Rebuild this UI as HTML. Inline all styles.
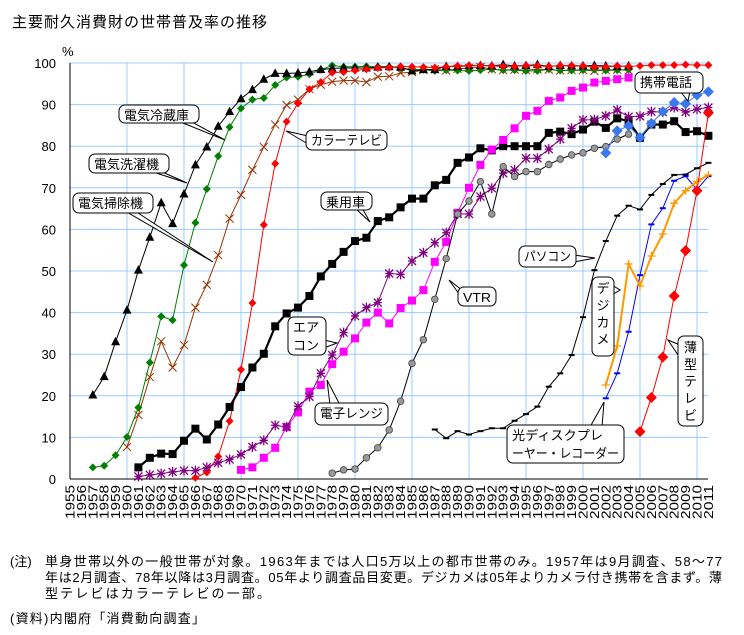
<!DOCTYPE html>
<html><head><meta charset="utf-8"><style>
body{margin:0;background:#fff;width:744px;height:635px;overflow:hidden;font-family:"Liberation Sans","Noto Sans CJK JP",sans-serif}
svg{position:absolute;left:0;top:0}
text{font-family:"Liberation Sans","Noto Sans CJK JP",sans-serif}
</style></head><body>
<svg id="s" width="744" height="635" viewBox="0 0 744 635" xmlns="http://www.w3.org/2000/svg">
<text x="12" y="27" font-size="15" letter-spacing="1">主要耐久消費財の世帯普及率の推移</text>
<text x="62" y="56" font-size="13">%</text>
<g id="grid"></g>
<g id="ser"></g>
<g id="call" font-size="12.5" fill="#000">
</g>
<text x="10" y="566" font-size="13">(注)</text>
<text x="45" y="566" font-size="13" textLength="677" lengthAdjust="spacing">単身世帯以外の一般世帯が対象。1963年までは人口5万以上の都市世帯のみ。1957年は9月調査、58～77</text>
<text x="45" y="582" font-size="13" textLength="677" lengthAdjust="spacing">年は2月調査、78年以降は3月調査。05年より調査品目変更。デジカメは05年よりカメラ付き携帯を含まず。薄</text>
<text x="45" y="598" font-size="13" textLength="225" lengthAdjust="spacing">型テレビはカラーテレビの一部。</text>
<text x="10" y="623" font-size="13" textLength="195" lengthAdjust="spacing">(資料)内閣府「消費動向調査」</text>
</svg>
<script>
(function(){
const NS="http://www.w3.org/2000/svg";
const X=y=>70+11.4*(y-1955), Y=p=>479-4.16*p;
function el(t,a,par,txt){const e=document.createElementNS(NS,t);for(const k in a)e.setAttribute(k,a[k]);if(txt!==undefined)e.textContent=txt;(par||document.getElementById('ser')).appendChild(e);return e;}
const g=document.getElementById('grid');
for(let i=0;i<=10;i++){const y=Y(i*10);if(i>0)el('line',{x1:70,x2:708,y1:y,y2:y,stroke:'#99ccff','stroke-width':1},g);
el('text',{x:56,y:y+5,'font-size':13,'text-anchor':'end'},g,String(i*10));}
for(let yr=1960;yr<=2010;yr+=5){el('line',{x1:X(yr),x2:X(yr),y1:63,y2:479,stroke:'#99ccff'},g);}
el('line',{x1:70,x2:70,y1:63,y2:479,stroke:'#000'},g);
el('line',{x1:70,x2:708,y1:479,y2:479,stroke:'#000'},g);
for(let yr=1955;yr<=2011;yr++){const x=X(yr)+4.5;el('text',{x:0,y:0,'font-size':12.5,textLength:34,lengthAdjust:'spacingAndGlyphs',transform:'translate('+x+',519) rotate(-90)'},g,String(yr));}
function S(start,vals,color,mk,w){const pts=vals.map((v,i)=>v==null?null:[X(start+i),Y(v)]).filter(p=>p);
el('polyline',{points:pts.map(p=>p.join(',')).join(' '),fill:'none',stroke:color,'stroke-width':w||1});
pts.forEach(p=>marker(p[0],p[1],mk,color));}
function marker(x,y,m,c){
if(m=='tri')el('polygon',{points:`${x},${y-5} ${x-4.5},${y+3.5} ${x+4.5},${y+3.5}`,fill:'#000'});
else if(m=='dia')el('polygon',{points:`${x},${y-4} ${x+4},${y} ${x},${y+4} ${x-4},${y}`,fill:c});
else if(m=='bdia')el('polygon',{points:`${x},${y-5.5} ${x+5.5},${y} ${x},${y+5.5} ${x-5.5},${y}`,fill:c});
else if(m=='x'){el('path',{d:`M${x-4},${y-4}L${x+4},${y+4}M${x+4},${y-4}L${x-4},${y+4}`,stroke:c});}
else if(m=='sq')el('rect',{x:x-4,y:y-4,width:8,height:8,fill:c});
else if(m=='ast')el('path',{d:`M${x-4},${y-4}L${x+4},${y+4}M${x+4},${y-4}L${x-4},${y+4}M${x},${y-5}L${x},${y+5}M${x-4},${y}L${x+4},${y}`,stroke:c,'stroke-width':1.3});
else if(m=='circ')el('circle',{cx:x,cy:y,r:3.3,fill:'#999',stroke:'#444','stroke-width':0.8});
else if(m=='dash')el('line',{x1:x-3,x2:x+3,y1:y,y2:y,stroke:c,'stroke-width':2});
else if(m=='plus')el('path',{d:`M${x-4},${y}L${x+4},${y}M${x},${y-4}L${x},${y+4}`,stroke:c,'stroke-width':1.3});
}
S(1960,[7.7,15.4,24.5,33.1,26.8,32.2,41.2,46.7,53.8,62.6,68.3,74.3,79.8,85.2,89.9,91.2,93.7,94.8,95.5,95.8,95.8,95.4,96.7,96.8,97.6,97.8,98.3,98.5,98.2,98.6,98.8,99,98.5,98.3,98.4,98.3,98.5,98.4,98.2,98.3,98.3,98.1,98.3,98.4,98.2],'#993300','x');
S(1957,[2.8,3.2,5.7,10.1,17.2,28.0,39.1,38.2,51.4,61.6,69.7,77.6,84.6,89.1,91.2,91.6,94.7,96.5,96.7,97.3,98.4,99.4,99.1,99.1,99.2,99.1,99.1,98.8,98.4,98.4,98.1,98.3,98.2,98.1,98.3,98.5,98.3,98.3,98.1,98.1,98.5,98.2,98.2,98.3,98.4,98.2,98.3,98.4],'#008000','dia');
S(1957,[20.2,24.6,33,40.6,50.2,58.1,66.4,61.4,68.5,75.5,79.8,84.8,88.3,91.4,93.6,96.1,97.5,97.5,97.6,97.9,98.4,98.7,98.8,98.8,98.8,99,99.1,99,98.1,98.4,98.4,99.2,99.2,99.3,99.4,99.3,99.6,99.3,99.4,99.6,99.2,99.4,99.3,99.3,99.4,99.3,99.2,99.3],'#000','tri');
S(1966,[0.3,1.6,5.4,13.9,26.3,42.3,61.1,75.8,85.9,90.3,93.7,95.4,97.7,97.8,98.2,98.5,98.8,98.9,99.2,99.1,99,98.9,99.1,99.3,99.4,99.4,99.3,99.2,99.2,99.4,99.3,99.2,99.4,99.4,99.3,99,99.1,99.3,99.2,99.3,99.5,99.5,99.5,99.6,99.5,99.5],'#ff0000','dia');
S(1961,[2.8,5.1,6.1,6.0,9.2,12.1,9.5,13.1,17.3,22.1,26.8,30.1,36.7,39.8,41.2,44.0,48.7,51.7,54.6,57.2,58.0,62.0,62.9,65.3,67.4,67.4,70.6,71.9,76.0,77.3,79.5,79.0,80,80,80,80,83.2,83.5,82.9,84,85.9,84.4,86.7,86,82,85.2,85.2,86,83.4,83.6,82.5],'#000','sq',2.2);
S(1970,[2.2,2.8,5.1,7.5,12.5,16,21,22.6,27.6,30.6,33.8,37.6,40,37.4,41.1,42.9,45.4,52.2,57,64,70,75.5,79.2,81.5,84.3,87.3,88.5,90.9,91.7,93.3,94.1,95.3,95.7,96.1,96.5],'#ff00ff','sq');
S(1961,[0.6,1,1.3,1.7,2,2,2.8,3.9,4.7,5.9,7.7,9.3,12.9,12.5,17.5,19.8,25.4,29.8,35.2,39.2,41.2,42.4,49.4,49.2,52.4,54.4,56.8,59.2,63.7,63.7,67.9,69.9,73.5,74.3,77.1,77.1,79.3,81.7,84.3,86.3,86.4,87.3,88.7,87.1,87.2,88.3,88.2,89.3,88.2,88.9,89.3],'#800080','ast');
S(1978,[1.4,2.2,2.4,5.1,7.5,11.8,18.7,27.8,33.5,43.2,53,63.7,66.8,71.5,63.7,75.1,72.7,73.9,73.9,75.6,76.9,77.9,78.4,79.5,79.9,81.7,82.9],'#000','circ');
S(2002,[78.4,83.7,84.9,82.1,85.5,88.3,90.5,90.2,92.3,93.1],'#3a78f0','bdia');
S(1987,[11.9,9.8,11.5,10.7,11.5,12.2,12.2,14,15.6,17.4,22.2,25.4,29.8,38.9,50.2,57.2,63.3,65.7,64.8,68.3,70.9,73.1,73.2,74.7,76],'#000','dash');
S(2002,[19.4,25.4,35.4,49,61.2,65.1,71.7,72.8,69.6,72.8],'#0000ff','dash');
S(2002,[22.6,32,51.7,46.4,53.6,58.9,66.3,69.3,71.5,73.1],'#ff9900','plus',2);
S(2005,[11.4,19.6,29.3,44,54.9,69.3,88],'#ff0000','bdia');
const c=document.getElementById('call');
function box(x,y,w,h,lines,tail,vert){
el('path',{d:tail,fill:'#fff',stroke:'#000','stroke-width':1},c);
el('rect',{x:x,y:y,width:w,height:h,rx:6,fill:'#fff',stroke:'#000'},c);
lines.forEach((t,i)=>{if(vert){[...t].forEach((ch,j)=>el('text',{x:x+w/2,y:y+16+j*17,'text-anchor':'middle','font-size':13},c,ch));}
else el('text',{x:x+5,y:y+15+i*18,'font-size':13,textLength:Math.min(w-10,t.length*13),lengthAdjust:'spacingAndGlyphs'},c,t);});}
function tailL(x1,y1,x2,y2,tx,ty){return `M${x1},${y1}L${tx},${ty}L${x2},${y2}`;}
box(119,105,80,18,['電気冷蔵庫'],tailL(178,121,190,121,225,140));
box(89,154,80,19,['電気洗濯機'],tailL(150,171,160,171,187,183));
box(73,193,80,20,['電気掃除機'],tailL(125,211,135,211,213,262));
box(306,130,81,20,['カラーテレビ'],tailL(308,136,308,144,286,131));
box(321,192,51,18,['乗用車'],tailL(355,208,362,208,370,222));
box(458,287,38,19,['VTR'],tailL(462,290,462,298,449,280));
box(288,317,38,38,['エア','コン'],tailL(324,340,324,348,337,343));
box(315,403,73,22,['電子レンジ'],tailL(330,405,340,405,327,380));
box(519,246,57,21,['パソコン'],tailL(574,255,574,262,595,258));
box(592,277,22,79,['デジカメ'],tailL(612,285,612,295,620,290),true);
box(678,336,25,90,['薄型テレビ'],tailL(680,345,680,358,668,340),true);
box(635,72,68,21,['携帯電話'],tailL(680,91,690,91,688,101));
box(507,425,117,38,['光ディスクプレ','ーヤー・レコーダー'],tailL(590,427,602,427,604,402));
})();
</script>
</body></html>
